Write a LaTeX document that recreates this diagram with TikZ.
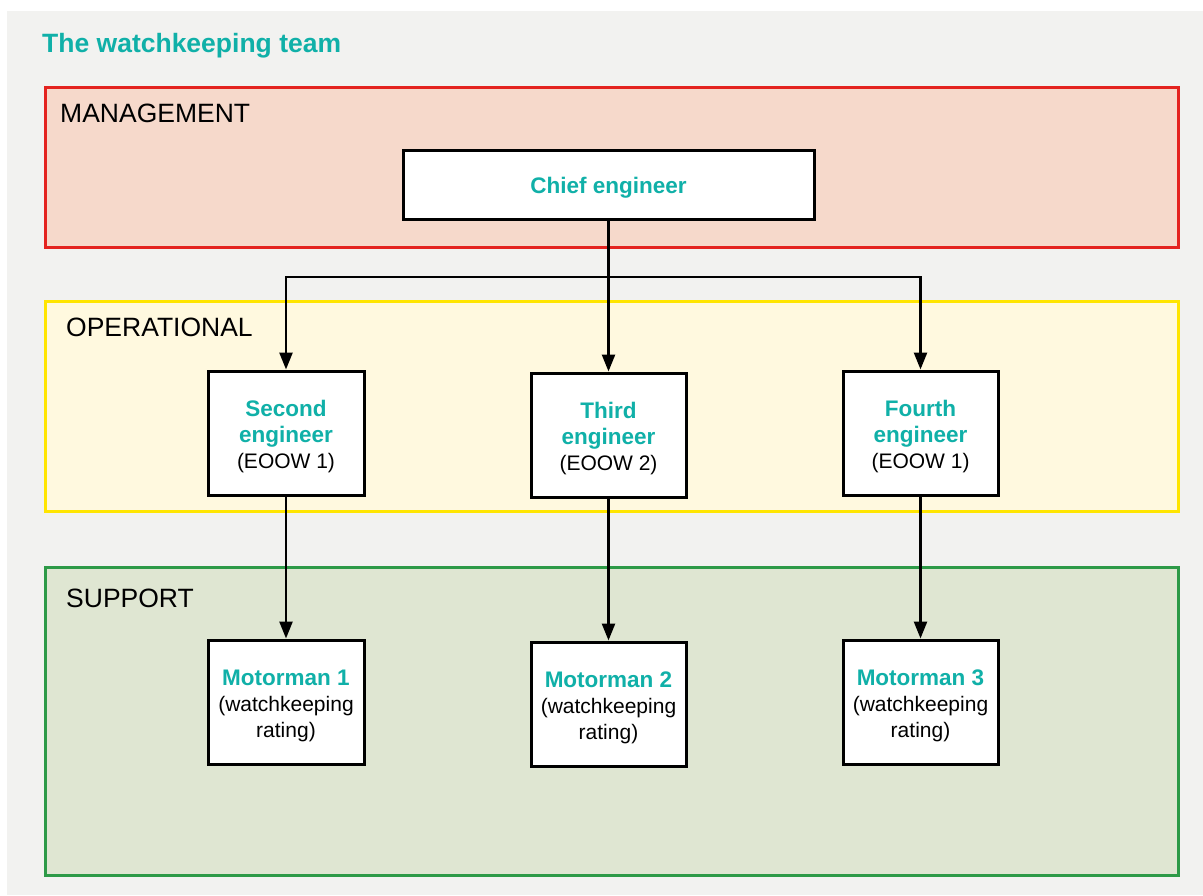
\documentclass[tikz,border=0pt]{standalone}
\usepackage{fontspec}
\setmainfont{Liberation Sans}
\usetikzlibrary{arrows.meta}
\definecolor{tl}{RGB}{16,176,168}
\definecolor{bgc}{RGB}{242,242,240}
\definecolor{mgfill}{RGB}{246,217,203}
\definecolor{mgline}{RGB}{228,35,31}
\definecolor{opfill}{RGB}{255,249,223}
\definecolor{opline}{RGB}{255,229,0}
\definecolor{sufill}{RGB}{223,230,210}
\definecolor{suline}{RGB}{45,154,71}
\tikzset{
  section/.style={draw, line width=3pt, rectangle, inner sep=0pt},
  seclabel/.style={anchor=base west, inner sep=0pt, font=\fontsize{26.5}{30}\selectfont},
  rolebox/.style={draw=black, fill=white, line width=3pt, rectangle, inner sep=0pt, align=center, font=\fontsize{21}{26}\selectfont},
  arr/.style={line width=2.5pt, -{Triangle[width=13pt,length=17pt]}},
}
\newcommand{\ttl}[1]{\textcolor{tl}{\fontsize{22.5}{26}\selectfont\textbf{#1}}}
\newcommand{\ttlA}[1]{\rule{0pt}{24pt}\ttl{#1}}
\begin{document}
\begin{tikzpicture}[x=1pt,y=-1pt]
\useasboundingbox (0,0) rectangle (1203,895);
\fill[white] (0,0) rectangle (1203,895);
\fill[bgc] (7,11) rectangle (1203,895);
\node[anchor=base west, inner sep=0pt, text=tl, font=\fontsize{26.5}{30}\selectfont\bfseries] (title) at (42,52) {The watchkeeping team};

% sections
\node[section, draw=mgline, fill=mgfill, minimum width=1133pt, minimum height=160pt] (mgmt) at (611.5,167) {};
\node[section, draw=opline, fill=opfill, minimum width=1133pt, minimum height=210pt] (oper) at (611.5,406) {};
\node[section, draw=suline, fill=sufill, minimum width=1133pt, minimum height=308pt] (supp) at (611.5,721) {};
\node[seclabel] (mgmtlbl) at (60,122) {MANAGEMENT};
\node[seclabel] (operlbl) at (66,336) {OPERATIONAL};
\node[seclabel] (supplbl) at (66,607) {SUPPORT};

% boxes
\node[rolebox, minimum width=411pt, minimum height=69pt] (chief) at (608.5,184.5) {\rule{0pt}{22.5pt}\ttl{Chief engineer}};
\node[rolebox, minimum width=156pt, minimum height=124pt] (second) at (286,433) {\ttlA{Second}\\\ttl{engineer}\\(EOOW 1)};
\node[rolebox, minimum width=155pt, minimum height=124pt] (third) at (608.5,435) {\ttlA{Third}\\\ttl{engineer}\\(EOOW 2)};
\node[rolebox, minimum width=155pt, minimum height=124pt] (fourth) at (920.5,433) {\ttlA{Fourth}\\\ttl{engineer}\\(EOOW 1)};
\node[rolebox, minimum width=156pt, minimum height=124pt] (m1) at (286,702) {\ttlA{Motorman 1}\\(watchkeeping\\rating)};
\node[rolebox, minimum width=155pt, minimum height=124pt] (m2) at (608.5,704) {\ttlA{Motorman 2}\\(watchkeeping\\rating)};
\node[rolebox, minimum width=155pt, minimum height=124pt] (m3) at (920.5,702) {\ttlA{Motorman 3}\\(watchkeeping\\rating)};

% connectors
\coordinate (bus) at (608,277);
\draw[arr] (chief.south) -- (third.north);
\draw[arr] (chief.south |- bus) -| (second.north);
\draw[arr] (chief.south |- bus) -| (fourth.north);
\draw[arr] (second.south) -- (m1.north);
\draw[arr] (third.south) -- (m2.north);
\draw[arr] (fourth.south) -- (m3.north);
\end{tikzpicture}
\end{document}
